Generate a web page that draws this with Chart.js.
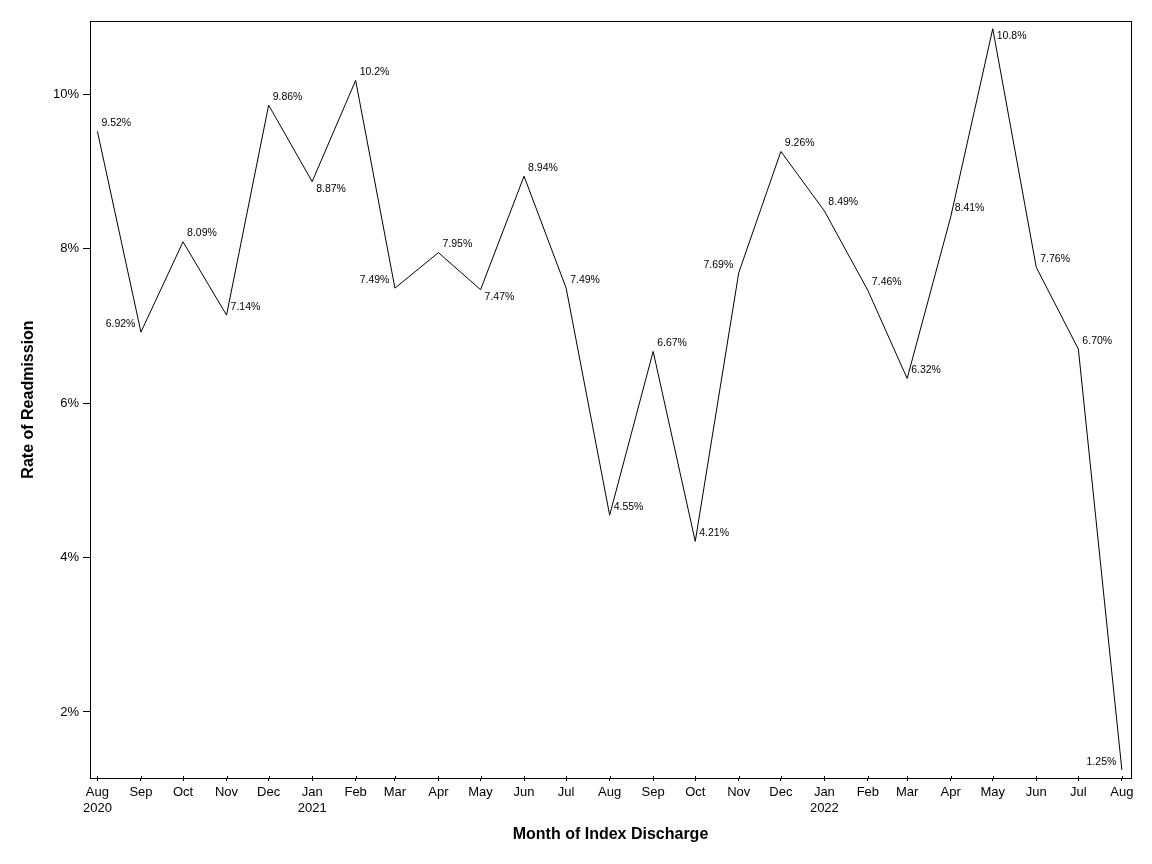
<!DOCTYPE html>
<html><head><meta charset="utf-8">
<script src="https://cdn.jsdelivr.net/npm/chart.js@4/dist/chart.umd.min.js"></script>
<style>html,body{margin:0;padding:0;background:#fff}#wrap{width:1152px;height:864px}</style>
</head><body><div id="wrap"><canvas id="c" width="1152" height="864"></canvas></div>
<script>
// ---- data ----
const months = ['2020-08','2020-09','2020-10','2020-11','2020-12','2021-01','2021-02','2021-03','2021-04','2021-05','2021-06','2021-07','2021-08','2021-09','2021-10','2021-11','2021-12','2022-01','2022-02','2022-03','2022-04','2022-05','2022-06','2022-07','2022-08'];
const rates = [9.52,6.92,8.09,7.14,9.86,8.87,10.18,7.49,7.95,7.47,8.94,7.49,4.55,6.67,4.21,7.69,9.26,8.49,7.46,6.32,8.41,10.85,7.76,6.70,1.25];
const yTickValues = [2,4,6,8,10];
const monthNames = ['Jan','Feb','Mar','Apr','May','Jun','Jul','Aug','Sep','Oct','Nov','Dec'];
const yearLabelMonths = ['2020-08','2021-01','2022-01'];
// label placement per point (style, not data)
const labelPlacement = ['ne','nw','ne','ne','ne','se','ne','nw','ne','se','ne','ne','ne','ne','ne','nw','ne','ne','ne','ne','ne','se','ne','ne','nw'];

const FONT = "'Liberation Sans', Arial, sans-serif";
Chart.defaults.font.family = FONT;
Chart.defaults.color = '#000';

const base = Date.UTC(2020, 7, 1);
const dayOf = m => { const [y, mo] = m.split('-').map(Number); return (Date.UTC(y, mo - 1, 1) - base) / 86400000; };
const days = months.map(dayOf);
const points = months.map((m, i) => ({x: days[i], y: rates[i]}));

const tickLabel = (v) => {
  const i = days.indexOf(v);
  if (i < 0) return '';
  const [y, mo] = months[i].split('-').map(Number);
  const name = monthNames[mo - 1];
  return (yearLabelMonths.includes(months[i])) ? [name, String(y)] : name;
};

const frame = {
  id: 'frame',
  afterDraw(chart) {
    const {ctx, chartArea: a} = chart;
    ctx.save();
    ctx.strokeStyle = '#000';
    ctx.lineWidth = 1;
    ctx.strokeRect(Math.round(a.left) + 0.5, Math.round(a.top) + 0.5, Math.round(a.right - a.left), Math.round(a.bottom - a.top));
    // ticks extending slightly into the plot on x
    const xs = chart.scales.x;
    ctx.beginPath();
    xs.ticks.forEach(t => {
      const px = Math.round(xs.getPixelForValue(t.value)) + 0.5;
      ctx.moveTo(px, a.bottom - 2);
      ctx.lineTo(px, a.bottom + 1);
    });
    ctx.stroke();
    ctx.restore();
  }
};

const pointLabels = {
  id: 'pointLabels',
  afterDatasetsDraw(chart) {
    const {ctx} = chart;
    const meta = chart.getDatasetMeta(0);
    ctx.save();
    ctx.font = '10.5px ' + FONT;
    ctx.fillStyle = '#000';
    ctx.textBaseline = 'middle';
    meta.data.forEach((el, i) => {
      const txt = rates[i].toPrecision(3) + '%';
      const p = labelPlacement[i];
      let dx = 4, dy = -8.5, align = 'left';
      if (p === 'se') { dy = 7.5; }
      if (p === 'nw') { dx = -5.5; align = 'right'; dy = -8; }
      ctx.textAlign = align;
      ctx.fillText(txt, el.x + dx, el.y + dy);
    });
    ctx.restore();
  }
};

new Chart(document.getElementById('c'), {
  type: 'line',
  data: {
    datasets: [{
      data: points,
      borderColor: '#000',
      borderWidth: 1,
      pointRadius: 0,
      tension: 0,
      fill: false
    }]
  },
  options: {
    responsive: false,
    animation: false,
    devicePixelRatio: 1,
    layout: {padding: {top: 21, right: 21, left: 0, bottom: 0}},
    plugins: {legend: {display: false}, tooltip: {enabled: false}},
    scales: {
      x: {
        type: 'linear',
        min: -5.3,
        max: 736.5,
        afterBuildTicks: s => { s.ticks = days.map(v => ({value: v})); },
        afterFit: s => { s.height = 86; },
        grid: {drawOnChartArea: false, drawTicks: true, tickLength: 3, tickColor: '#000'},
        border: {display: true, color: '#000', width: 1},
        ticks: {
          autoSkip: false, maxRotation: 0, minRotation: 0, padding: 4,
          font: {size: 13, family: FONT}, color: '#000',
          callback: v => tickLabel(v)
        },
        title: {display: true, text: 'Month of Index Discharge', color: '#000',
          font: {size: 16, weight: 'bold', family: FONT}, padding: {bottom: 20, top: 0}}
      },
      y: {
        type: 'linear',
        min: 1.145,
        max: 10.95,
        afterBuildTicks: s => { s.ticks = yTickValues.map(v => ({value: v})); },
        afterFit: s => { s.width = 90; },
        grid: {drawOnChartArea: false, drawTicks: true, tickLength: 7, tickColor: '#000'},
        border: {display: true, color: '#000', width: 1},
        ticks: {padding: 4, font: {size: 13, family: FONT}, color: '#000', callback: v => v + '%'},
        title: {display: true, text: 'Rate of Readmission', color: '#000',
          font: {size: 16, weight: 'bold', family: FONT}, padding: {top: 19, bottom: 0}}
      }
    }
  },
  plugins: [pointLabels, frame]
});
</script></body></html>
